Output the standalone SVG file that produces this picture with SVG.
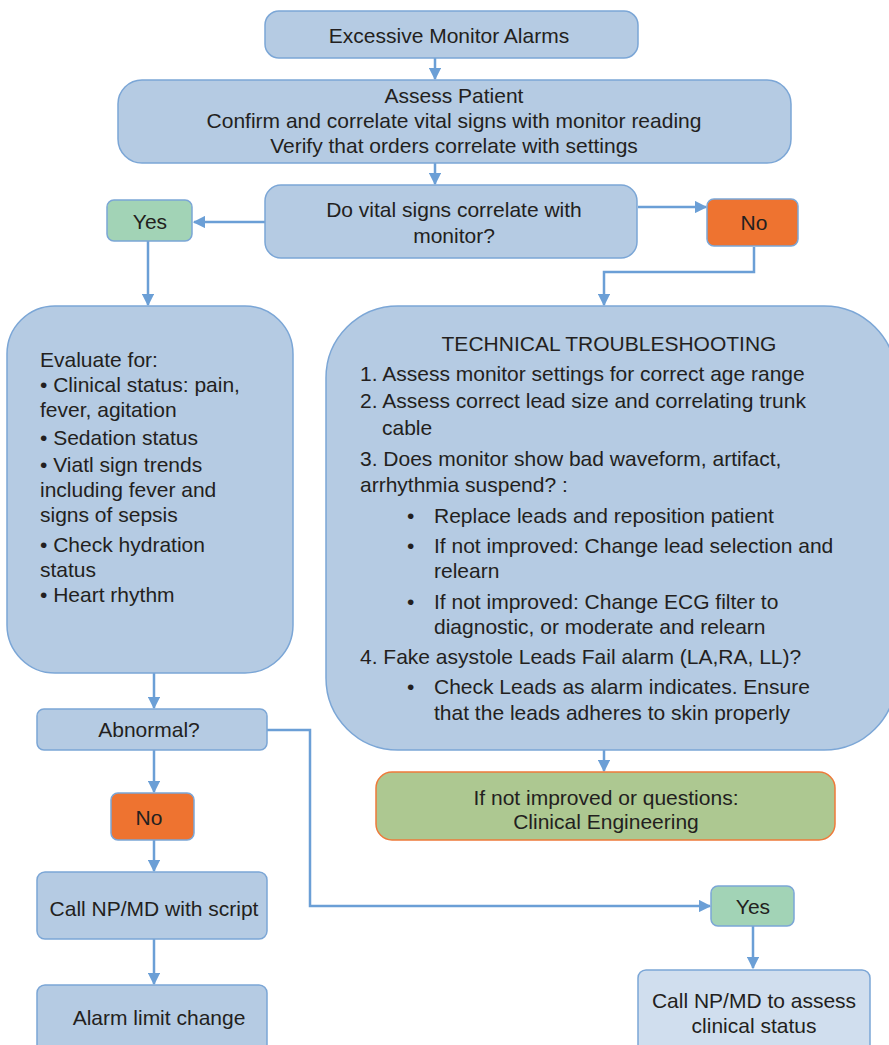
<svg xmlns="http://www.w3.org/2000/svg" width="889" height="1045" viewBox="0 0 889 1045">
<defs>
<style>
.box{fill:#b5cbe3;stroke:#7ba6d6;stroke-width:1.5}
.yes{fill:#a2d3b6;stroke:#7ba6d6;stroke-width:1.5}
.no{fill:#ee7330;stroke:#7ba6d6;stroke-width:1.5}
.eng{fill:#adc891;stroke:#ee7a3a;stroke-width:1.5}
.light{fill:#d0deee;stroke:#7ba6d6;stroke-width:1.5}
text{font-family:"Liberation Sans",Arial,sans-serif;font-size:21px;fill:#231f20}
.c{text-anchor:middle}
.con{fill:none;stroke:#6b9fd6;stroke-width:2.5}
</style>
<marker id="ah" viewBox="0 0 10 10" refX="9" refY="5" markerWidth="5" markerHeight="5" orient="auto" markerUnits="strokeWidth">
<path d="M0,0 L10,5 L0,10 z" fill="#6b9fd6"/>
</marker>
</defs>
<g id="connectors">
<path class="con" d="M435,58 V79" marker-end="url(#ah)"/>
<path class="con" d="M435,163 V184" marker-end="url(#ah)"/>
<path class="con" d="M265,222 H194" marker-end="url(#ah)"/>
<path class="con" d="M638,207 H706" marker-end="url(#ah)"/>
<path class="con" d="M148,241 V305" marker-end="url(#ah)"/>
<path class="con" d="M754,247 V272 H604 V305" marker-end="url(#ah)"/>
<path class="con" d="M154,673 V708" marker-end="url(#ah)"/>
<path class="con" d="M154,750 V792" marker-end="url(#ah)"/>
<path class="con" d="M154,840 V871" marker-end="url(#ah)"/>
<path class="con" d="M154,939 V984" marker-end="url(#ah)"/>
<path class="con" d="M267,730 H310 V906 H710" marker-end="url(#ah)"/>
<path class="con" d="M604,750 V771" marker-end="url(#ah)"/>
<path class="con" d="M753,926 V968" marker-end="url(#ah)"/>
</g>
<g id="n-alarms">
<rect class="box" x="265" y="11" width="373" height="47" rx="14"/>
<text class="c" x="449" y="43">Excessive Monitor Alarms</text>
</g>
<g id="n-assess">
<rect class="box" x="118" y="80" width="673" height="83" rx="24"/>
<text class="c" x="454" y="103">Assess Patient</text>
<text class="c" x="454" y="128">Confirm and correlate vital signs with monitor reading</text>
<text class="c" x="454" y="153">Verify that orders correlate with settings</text>
</g>
<g id="n-correlate">
<rect class="box" x="265" y="185" width="372" height="73" rx="16"/>
<text class="c" x="454" y="217">Do vital signs correlate with</text>
<text class="c" x="454" y="243">monitor?</text>
</g>
<g id="n-yes1">
<rect class="yes" x="107" y="200" width="85" height="41" rx="7"/>
<text class="c" x="150" y="229">Yes</text>
</g>
<g id="n-no1">
<rect class="no" x="707" y="199" width="91" height="47" rx="7" stroke-width="3"/>
<text class="c" x="754" y="230">No</text>
</g>
<g id="n-evaluate">
<rect class="box" x="7" y="306" width="286" height="367" rx="48"/>
<text x="40" y="367">Evaluate for:</text>
<text x="40" y="392">• Clinical status: pain,</text>
<text x="40" y="417">fever, agitation</text>
<text x="40" y="445">• Sedation status</text>
<text x="40" y="472">• Viatl sign trends</text>
<text x="40" y="497">including fever and</text>
<text x="40" y="522">signs of sepsis</text>
<text x="40" y="552">• Check hydration</text>
<text x="40" y="577">status</text>
<text x="40" y="602">• Heart rhythm</text>
</g>
<g id="n-technical">
<rect class="box" x="326" y="306" width="570" height="444" rx="72"/>
<text class="c" x="609" y="351">TECHNICAL TROUBLESHOOTING</text>
<text x="360" y="381">1. Assess monitor settings for correct age range</text>
<text x="360" y="408">2. Assess correct lead size and correlating trunk</text>
<text x="382" y="435">cable</text>
<text x="360" y="466">3. Does monitor show bad waveform, artifact,</text>
<text x="360" y="492">arrhythmia suspend? :</text>
<text x="407" y="523">•</text>
<text x="434" y="523">Replace leads and reposition patient</text>
<text x="407" y="553">•</text>
<text x="434" y="553">If not improved: Change lead selection and</text>
<text x="434" y="578">relearn</text>
<text x="407" y="609">•</text>
<text x="434" y="609">If not improved: Change ECG filter to</text>
<text x="434" y="634">diagnostic, or moderate and relearn</text>
<text x="360" y="664">4. Fake asystole Leads Fail alarm (LA,RA, LL)?</text>
<text x="407" y="694">•</text>
<text x="434" y="694">Check Leads as alarm indicates. Ensure</text>
<text x="434" y="720">that the leads adheres to skin properly</text>
</g>
<g id="n-engineering">
<rect class="eng" x="376" y="772" width="459" height="68" rx="16"/>
<text class="c" x="606" y="805">If not improved or questions:</text>
<text class="c" x="606" y="829">Clinical Engineering</text>
</g>
<g id="n-abnormal">
<rect class="box" x="37" y="709" width="230" height="41" rx="7"/>
<text class="c" x="149" y="737">Abnormal?</text>
</g>
<g id="n-no2">
<rect class="no" x="111" y="793" width="83" height="47" rx="7"/>
<text class="c" x="149" y="825">No</text>
</g>
<g id="n-callscript">
<rect class="box" x="37" y="872" width="230" height="67" rx="8"/>
<text class="c" x="154" y="916">Call NP/MD with script</text>
</g>
<g id="n-alarmlimit">
<rect class="box" x="37" y="985" width="230" height="70" rx="8"/>
<text class="c" x="159" y="1025">Alarm limit change</text>
</g>
<g id="n-yes2">
<rect class="yes" x="711" y="886" width="83" height="40" rx="7"/>
<text class="c" x="753" y="914">Yes</text>
</g>
<g id="n-assessclinical">
<rect class="light" x="638" y="970" width="232" height="85" rx="8"/>
<text class="c" x="754" y="1008">Call NP/MD to assess</text>
<text class="c" x="754" y="1033">clinical status</text>
</g>
</svg>
